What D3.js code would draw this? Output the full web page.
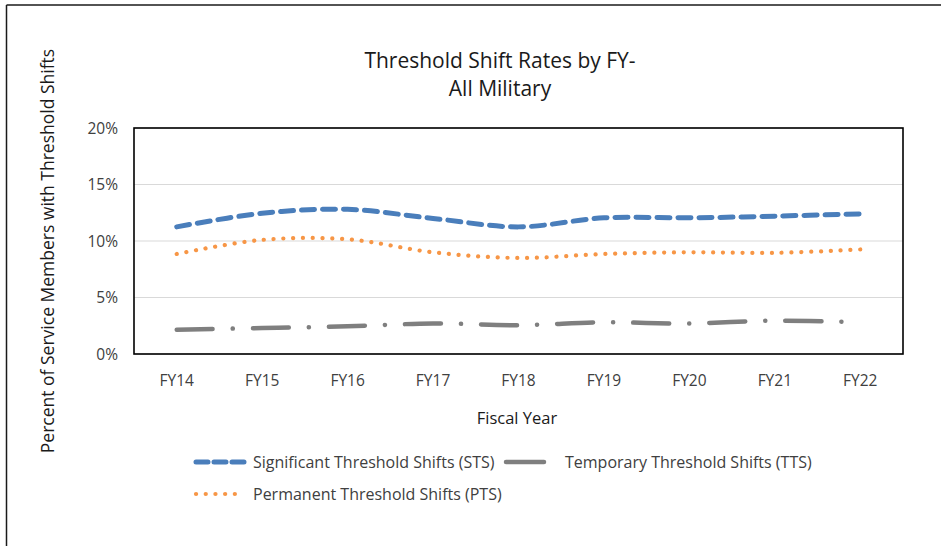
<!DOCTYPE html>
<html lang="en">
<head>
<meta charset="utf-8" />
<title>Threshold Shift Rates</title>
<style>
    body { margin: 0; background: #fff; }
    text { font-family: "Open Sans", "Liberation Sans", sans-serif; fill: #404040; }
</style>
</head>
<body>
<script src="https://cdn.jsdelivr.net/npm/d3@7"></script>
<script>
// data
var years = ["FY14", "FY15", "FY16", "FY17", "FY18", "FY19", "FY20", "FY21", "FY22"];
var sts = [11.25, 12.45, 12.8, 12.0, 11.25, 12.05, 12.05, 12.2, 12.4];
var tts = [2.15, 2.3, 2.45, 2.7, 2.55, 2.8, 2.7, 2.95, 2.8];
var pts = [8.85, 10.1, 10.15, 9.0, 8.5, 8.85, 9.0, 8.95, 9.25];
var yTicks = [0, 5, 10, 15, 20];
var seriesNames = ["Significant Threshold Shifts (STS)", "Temporary Threshold Shifts (TTS)", "Permanent Threshold Shifts (PTS)"];

var width = 941, height = 546;
var svg = d3.select("body").append("svg")
    .attr("width", width)
    .attr("height", height);

// outer frame (top and left edges visible)
svg.append("line").attr("x1", 6.5).attr("y1", 5).attr("x2", width).attr("y2", 5)
    .attr("stroke", "#1a1a1a").attr("stroke-width", 1.5);
svg.append("line").attr("x1", 6.5).attr("y1", 5).attr("x2", 6.5).attr("y2", height)
    .attr("stroke", "#1a1a1a").attr("stroke-width", 1.5);

var plotL = 134, plotR = 903, plotT = 128, plotB = 354;

var x = d3.scalePoint().domain(years).range([plotL, plotR]).padding(0.5);
var y = d3.scaleLinear().domain([0, 20]).range([plotB, plotT]);

// gridlines
svg.append("g").selectAll("line")
    .data(yTicks)
    .enter().append("line")
    .attr("x1", plotL).attr("x2", plotR)
    .attr("y1", function(d){ return y(d); })
    .attr("y2", function(d){ return y(d); })
    .attr("stroke", "#d9d9d9").attr("stroke-width", 1.2);

// y tick labels
svg.append("g").selectAll("text")
    .data(yTicks)
    .enter().append("text")
    .attr("x", 118)
    .attr("y", function(d){ return y(d) + 5.5; })
    .attr("text-anchor", "end")
    .style("font-size", "15.5px")
    .text(function(d){ return d + "%"; });

// x tick labels
svg.append("g").selectAll("text")
    .data(years)
    .enter().append("text")
    .attr("x", function(d){ return x(d); })
    .attr("y", 386)
    .attr("text-anchor", "middle")
    .style("font-size", "15.5px")
    .text(function(d){ return d; });

// plot frame
svg.append("rect")
    .attr("x", plotL).attr("y", plotT)
    .attr("width", plotR - plotL).attr("height", plotB - plotT)
    .attr("fill", "none").attr("stroke", "#000").attr("stroke-width", 1.6);

var line = d3.line()
    .x(function(d, i){ return x(years[i]); })
    .y(function(d){ return y(d); })
    .curve(d3.curveCatmullRom.alpha(0.5));

var styles = [
    { data: sts, color: "#4a7ebb", dash: "13,8", width: 5 },
    { data: tts, color: "#7f7f7f", dash: "36,20,0.1,20", width: 4.5 },
    { data: pts, color: "#f79646", dash: "0.1,9.7", width: 4.2 }
];

svg.append("g").selectAll("path")
    .data(styles)
    .enter().append("path")
    .attr("d", function(d){ return line(d.data); })
    .attr("fill", "none")
    .attr("stroke", function(d){ return d.color; })
    .attr("stroke-width", function(d){ return d.width; })
    .attr("stroke-dasharray", function(d){ return d.dash; })
    .attr("stroke-linecap", "round");

// titles
var title = svg.append("text")
    .attr("x", 500).attr("y", 68)
    .attr("text-anchor", "middle")
    .style("font-size", "21px")
    .style("fill", "#1a1a1a");
title.append("tspan").attr("x", 500).text("Threshold Shift Rates by FY-");
title.append("tspan").attr("x", 500).attr("dy", 28).text("All Military");

svg.append("text")
    .attr("x", 517).attr("y", 424)
    .attr("text-anchor", "middle")
    .style("font-size", "16.5px")
    .style("fill", "#1a1a1a")
    .text("Fiscal Year");

svg.append("text")
    .attr("transform", "translate(54,251) rotate(-90)")
    .attr("text-anchor", "middle")
    .style("font-size", "17.5px")
    .style("fill", "#1a1a1a")
    .text("Percent of Service Members with Threshold Shifts");

// legend
var legendPos = [
    { lx: 196, ly: 462, tx: 253 },
    { lx: 506, ly: 462, tx: 565 },
    { lx: 196, ly: 494, tx: 253 }
];
var lg = svg.append("g").selectAll("g")
    .data(styles)
    .enter().append("g");
lg.append("line")
    .attr("x1", function(d, i){ return legendPos[i].lx; })
    .attr("x2", function(d, i){ return legendPos[i].lx + (i == 1 ? 38 : 48); })
    .attr("y1", function(d, i){ return legendPos[i].ly; })
    .attr("y2", function(d, i){ return legendPos[i].ly; })
    .attr("stroke", function(d){ return d.color; })
    .attr("stroke-width", function(d){ return d.width; })
    .attr("stroke-dasharray", function(d, i){ return i == 0 ? "12,6" : (i == 1 ? null : "0.1,9.6"); })
    .attr("stroke-linecap", "round");
lg.append("text")
    .attr("x", function(d, i){ return legendPos[i].tx; })
    .attr("y", function(d, i){ return legendPos[i].ly + 5.5; })
    .style("font-size", "16px")
    .text(function(d, i){ return seriesNames[i]; });
</script>
</body>
</html>
